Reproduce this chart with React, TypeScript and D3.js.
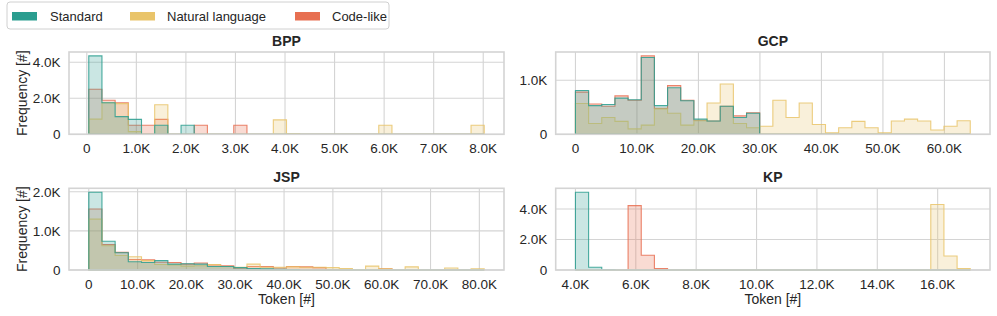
import React from 'react';
import * as d3 from 'd3';

const W = 997;
const H = 316;
const FONT = '"Liberation Sans", Arial, sans-serif';
const INK = '#262626';
const GRID = '#d4d4d4';

const seriesNames = ['Standard', 'Natural language', 'Code-like'];
const seriesColors = ['#2a9d8f', '#e9c46a', '#e76f51'];

// every panel: 30 common bins [start, end] in tokens, counts per bin
const bppBins = [40, 8020];
const bppStandard = [4350, 1750, 980, 830, 0, 500, 0, 500, 0, 0, 0, 0, 0, 0, 0, 0, 0, 0, 0, 0, 0, 0, 0, 0, 0, 0, 0, 0, 0, 0];
const bppNatural = [840, 1750, 1700, 150, 0, 1640, 0, 0, 0, 0, 0, 0, 0, 0, 800, 30, 0, 0, 0, 0, 0, 0, 500, 0, 0, 0, 0, 0, 0, 500];
const bppCode = [2500, 1890, 1750, 500, 500, 830, 0, 0, 500, 0, 0, 500, 0, 0, 0, 0, 0, 0, 0, 0, 0, 0, 0, 0, 0, 0, 0, 0, 0, 0];

const gcpBins = [0, 64200];
const gcpStandard = [810, 530, 550, 670, 640, 1420, 530, 860, 620, 280, 245, 520, 310, 390, 0, 0, 0, 0, 0, 0, 0, 0, 0, 0, 0, 0, 0, 0, 0, 0];
const gcpNatural = [570, 200, 310, 240, 100, 170, 470, 390, 170, 250, 580, 930, 200, 120, 150, 630, 310, 580, 180, 30, 120, 240, 120, 30, 245, 280, 245, 80, 150, 250];
const gcpCode = [780, 560, 520, 710, 630, 1450, 480, 900, 630, 260, 245, 520, 340, 400, 0, 0, 0, 0, 0, 0, 0, 0, 0, 0, 0, 0, 0, 0, 0, 0];

const jspBins = [0, 81000];
const jspStandard = [1990, 735, 440, 210, 190, 240, 150, 160, 150, 90, 90, 60, 40, 30, 20, 10, 0, 0, 0, 0, 0, 0, 0, 0, 0, 0, 0, 0, 0, 0];
const jspNatural = [1300, 620, 370, 340, 240, 140, 130, 100, 110, 140, 90, 70, 150, 70, 70, 80, 70, 70, 60, 40, 10, 100, 30, 0, 80, 0, 0, 50, 0, 30];
const jspCode = [1560, 650, 450, 270, 260, 200, 190, 150, 180, 130, 110, 30, 90, 90, 50, 90, 80, 60, 10, 0, 0, 0, 30, 0, 0, 0, 0, 0, 0, 0];

const kpBins = [4000, 17080];
const kpStandard = [5100, 180, 20, 0, 0, 0, 0, 0, 0, 0, 0, 0, 0, 0, 0, 0, 0, 0, 0, 0, 0, 0, 0, 0, 0, 0, 0, 0, 0, 0];
const kpNatural = [0, 0, 0, 0, 0, 0, 0, 0, 0, 0, 0, 0, 0, 0, 0, 0, 0, 0, 0, 0, 0, 0, 0, 0, 0, 0, 0, 4290, 920, 90];
const kpCode = [0, 0, 0, 0, 4220, 970, 90, 0, 0, 0, 0, 0, 0, 0, 0, 0, 0, 0, 0, 0, 0, 0, 0, 0, 0, 0, 0, 0, 0, 0];

const bppXTicks = [0, 1000, 2000, 3000, 4000, 5000, 6000, 7000, 8000];
const gcpXTicks = [0, 10000, 20000, 30000, 40000, 50000, 60000];
const jspXTicks = [0, 10000, 20000, 30000, 40000, 50000, 60000, 70000, 80000];
const kpXTicks = [4000, 6000, 8000, 10000, 12000, 14000, 16000];
const bppYTicks = [0, 2000, 4000];
const gcpYTicks = [0, 1000];
const jspYTicks = [0, 1000, 2000];
const kpYTicks = [0, 2000, 4000];

const fmt = (v) => (v === 0 ? '0' : `${(v / 1000).toFixed(1)}K`);

function Panel({ title, box, bins, series, xTicks, yTicks, yLabel, xLabel }) {
    const [left, top, right, bottom] = box;
    const n = series[0].length;
    const edges = d3.range(n + 1).map((i) => bins[0] + ((bins[1] - bins[0]) * i) / n);
    const span = bins[1] - bins[0];
    const x = d3.scaleLinear()
        .domain([bins[0] - span * 0.05, bins[1] + span * 0.05])
        .range([left, right]);
    const ymax = d3.max(series, (s) => d3.max(s)) * 1.05;
    const y = d3.scaleLinear().domain([0, ymax]).range([bottom, top]);

    const area = d3.area()
        .curve(d3.curveStepAfter)
        .x((d) => x(d[0]))
        .y0(y(0))
        .y1((d) => y(d[1]));

    // seaborn draws later hue levels first
    const order = [2, 1, 0];

    return (
        <g>
            {xTicks.map((t) => (
                <line key={`gx${t}`} x1={x(t)} x2={x(t)} y1={top} y2={bottom} stroke={GRID} strokeWidth={1.1} />
            ))}
            {yTicks.map((t) => (
                <line key={`gy${t}`} x1={left} x2={right} y1={y(t)} y2={y(t)} stroke={GRID} strokeWidth={1.1} />
            ))}
            {order.map((k) => {
                const vals = series[k];
                const pts = vals.map((v, i) => [edges[i], v]);
                pts.push([edges[n], vals[n - 1]]);
                return (
                    <path
                        key={k}
                        d={area(pts)}
                        fill={seriesColors[k]}
                        fillOpacity={0.25}
                        stroke={seriesColors[k]}
                        strokeOpacity={0.85}
                        strokeWidth={1.1}
                    />
                );
            })}
            <rect x={left} y={top} width={right - left} height={bottom - top} fill="none" stroke={GRID} strokeWidth={1.6} />
            {xTicks.map((t) => (
                <text key={`tx${t}`} x={x(t)} y={bottom + 19} textAnchor="middle" fontSize={13.5} fill={INK}>{fmt(t)}</text>
            ))}
            {yTicks.map((t) => (
                <text key={`ty${t}`} x={left - 8.5} y={y(t)} dy="0.36em" textAnchor="end" fontSize={13.5} fill={INK}>{fmt(t)}</text>
            ))}
            <text x={(left + right) / 2} y={top - 6} textAnchor="middle" fontSize={14} fontWeight="bold" fill={INK}>{title}</text>
            {yLabel && (
                <text transform={`translate(27, ${(top + bottom) / 2}) rotate(-90)`} textAnchor="middle" fontSize={14} fill={INK}>{yLabel}</text>
            )}
            {xLabel && (
                <text x={(left + right) / 2} y={bottom + 34} textAnchor="middle" fontSize={14} fill={INK}>{xLabel}</text>
            )}
        </g>
    );
}

export default function App() {
    const topRow = [52, 134.3];
    const botRow = [188.3, 270];
    const leftCol = [69, 504];
    const rightCol = [555.7, 990];
    const legendItems = [
        { name: seriesNames[0], px: 12, tx: 50 },
        { name: seriesNames[1], px: 130, tx: 167 },
        { name: seriesNames[2], px: 295, tx: 332 },
    ];
    return (
        <svg width={W} height={H} style={{ position: 'absolute', left: 0, top: 0, fontFamily: FONT }}>
            <rect width={W} height={H} fill="white" />
            <Panel
                title="BPP"
                box={[leftCol[0], topRow[0], leftCol[1], topRow[1]]}
                bins={bppBins}
                series={[bppStandard, bppNatural, bppCode]}
                xTicks={bppXTicks}
                yTicks={bppYTicks}
                yLabel="Frequency [#]"
            />
            <Panel
                title="GCP"
                box={[rightCol[0], topRow[0], rightCol[1], topRow[1]]}
                bins={gcpBins}
                series={[gcpStandard, gcpNatural, gcpCode]}
                xTicks={gcpXTicks}
                yTicks={gcpYTicks}
            />
            <Panel
                title="JSP"
                box={[leftCol[0], botRow[0], leftCol[1], botRow[1]]}
                bins={jspBins}
                series={[jspStandard, jspNatural, jspCode]}
                xTicks={jspXTicks}
                yTicks={jspYTicks}
                yLabel="Frequency [#]"
                xLabel="Token [#]"
            />
            <Panel
                title="KP"
                box={[rightCol[0], botRow[0], rightCol[1], botRow[1]]}
                bins={kpBins}
                series={[kpStandard, kpNatural, kpCode]}
                xTicks={kpXTicks}
                yTicks={kpYTicks}
                xLabel="Token [#]"
            />
            <g>
                <rect x={7} y={2} width={382} height={27} rx={3} fill="white" stroke="#d0d0d0" strokeWidth={1} />
                {legendItems.map((d, i) => (
                    <g key={d.name}>
                        <rect x={d.px} y={12} width={25} height={8.5} fill={seriesColors[i]} />
                        <text x={d.tx} y={21.3} fontSize={13} fill={INK}>{d.name}</text>
                    </g>
                ))}
            </g>
        </svg>
    );
}
